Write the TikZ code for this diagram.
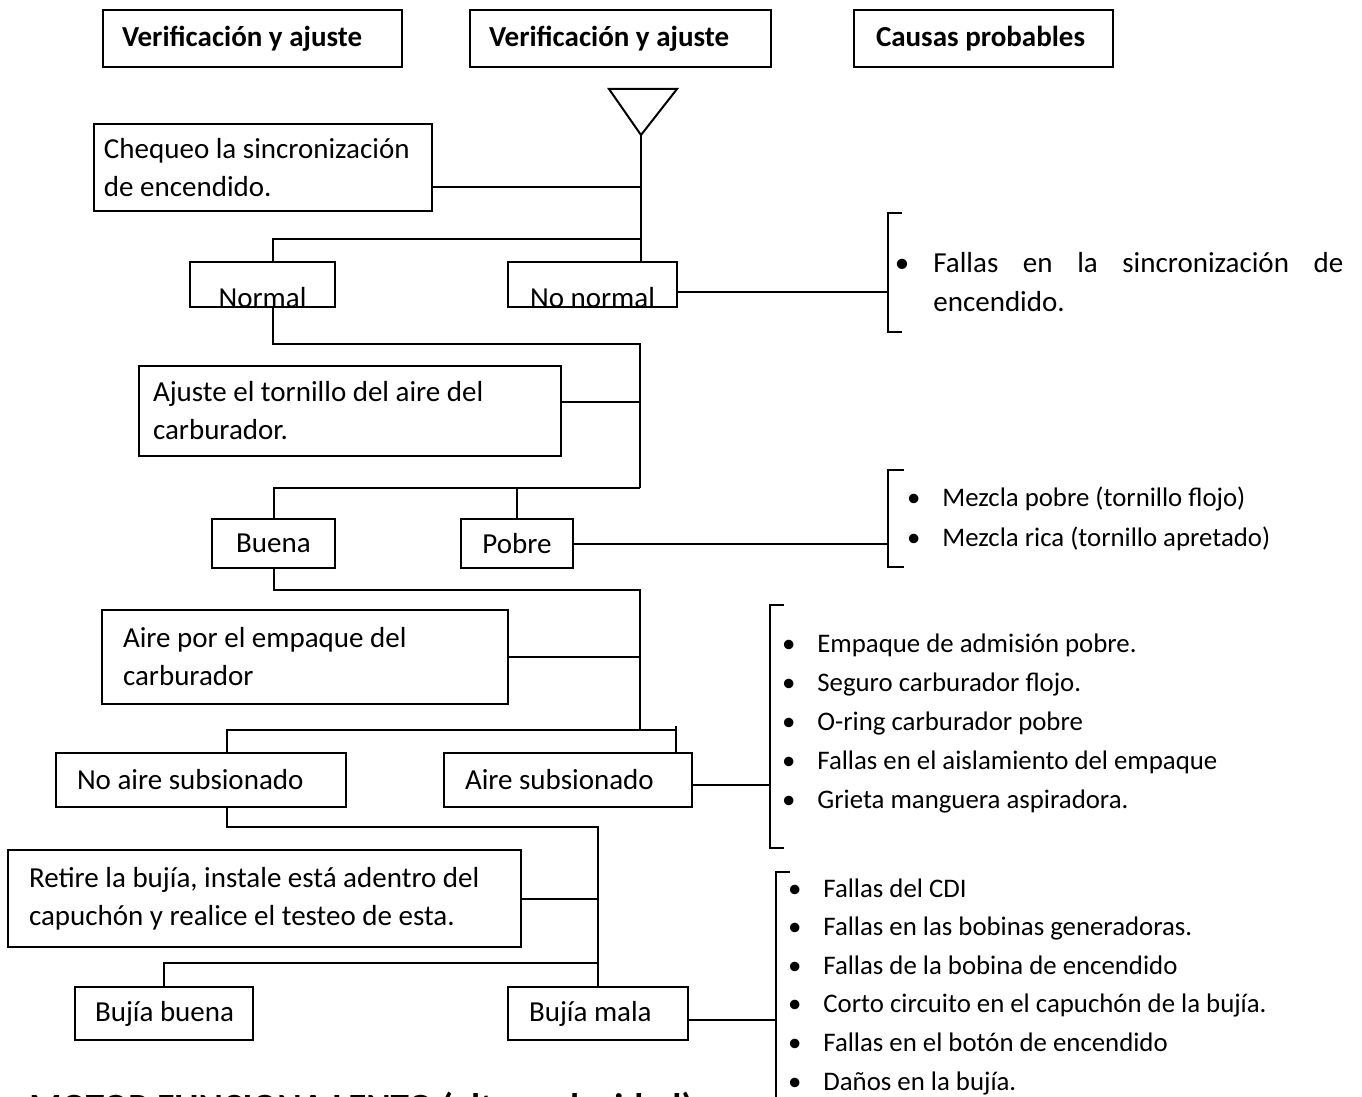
\documentclass[tikz,border=0pt]{standalone}
\usepackage{fontspec}
\setmainfont{Carlito}
\tikzset{
  caja/.style={draw, line width=1pt, inner ysep=0pt, font=\fontsize{14.5}{19}\selectfont},
  titulo/.style={caja, align=flush left, font=\fontsize{14.5}{16}\selectfont\bfseries, inner xsep=9.5pt, minimum height=28.5pt},
  causa/.style={anchor=base west, inner sep=0pt, font=\fontsize{13.4}{15}\selectfont},
  linea/.style={line width=1pt},
}
\newcommand{\vineta}[1]{\llap{\textbullet\hspace{#1}}}
\begin{document}
\begin{tikzpicture}[x=0.5pt,y=-0.5pt]
  \useasboundingbox (0,0) rectangle (1362,1097);
  \clip (0,0) rectangle (1362,1097);
  % encabezados
  \node[titulo, text width=130.5pt] (h1) at (252.5,38.5) {\mbox{Verificación y ajuste}};
  \node[titulo, text width=131.5pt] (h2) at (620.5,38.5) {\mbox{Verificación y ajuste}};
  \node[titulo, text width=107.5pt, inner xsep=11pt] (h3) at (983.5,38.5) {\mbox{Causas probables}};

  % puntos de union del tronco
  \coordinate (apex) at (641,135);
  \coordinate (j1) at (641,239);
  \coordinate (j2) at (640,344);
  \coordinate (j3) at (640,488);
  \coordinate (j4) at (640,590);
  \coordinate (j5) at (640,730);
  \coordinate (j6) at (676,730);
  \coordinate (j7) at (598,827);
  \coordinate (j8) at (598,963);
  \draw[linea] (609,89) -- (677,89) -- (apex) -- cycle;

  % pasos
  \node[caja, align=flush left, text width=159pt, inner xsep=5pt, minimum height=43.5pt] (chequeo) at (263,167.5)
    {Chequeo la sincronización\\de encendido.};
  \node[caja, minimum width=72.5pt, text height=22.5pt, text depth=0pt] (normal) at (262.5,284.5) {Normal};
  \node[caja, minimum width=84.5pt, text height=22.5pt, text depth=0pt] (nonormal) at (592.5,284.5) {No normal};
  \node[caja, align=flush left, text width=197pt, inner xsep=7pt, minimum height=45pt] (ajuste) at (350,411)
    {Ajuste el tornillo del aire del\\carburador.};
  \node[caja, minimum width=61.5pt, minimum height=24.5pt] (buena) at (273.5,543.5) {Buena};
  \node[caja, minimum width=56pt, minimum height=24.5pt] (pobre) at (517,543.5) {Pobre};
  \node[caja, align=flush left, text width=182pt, inner xsep=10.5pt, minimum height=47pt] (aire) at (305,657)
    {Aire por el empaque del\\carburador};
  \node[caja, align=flush left, text width=124pt, inner xsep=10.5pt, minimum height=27pt] (noaire) at (201,780) {\mbox{No aire subsionado}};
  \node[caja, align=flush left, text width=103pt, inner xsep=10.5pt, minimum height=27pt] (airesub) at (568,780) {\mbox{Aire subsionado}};
  \node[caja, align=flush left, text width=235.5pt, inner xsep=10.5pt, minimum height=48.5pt] (retire) at (264.5,898.5)
    {Retire la bujía, instale está adentro del\\capuchón y realice el testeo de esta.};
  \node[caja, align=flush left, text width=69pt, inner xsep=10pt, minimum height=26.5pt] (bbuena) at (164,1013.5) {\mbox{Bujía buena}};
  \node[caja, align=flush left, text width=69pt, inner xsep=10.5pt, minimum height=26.5pt] (bmala) at (598,1013.5) {\mbox{Bujía mala}};

  % conexiones
  \draw[linea] (apex) -- (apex |- nonormal.north);
  \draw[linea] ([yshift=-10pt]chequeo.east) -- ([yshift=-10pt]chequeo.east -| apex);
  \draw[linea] ([xshift=5pt]normal.north) |- (j1);
  \draw[linea] ([xshift=5pt]normal.south) |- (j2) -- (j3);
  \draw[linea] ([yshift=4.5pt]ajuste.east) -- ([yshift=4.5pt]ajuste.east -| j2);
  \draw[linea] (buena.north) |- (j3);
  \draw[linea] (pobre.north) -- (pobre.north |- j3);
  \draw[linea] (buena.south) |- (j4) -- (j5);
  \draw[linea] (aire.east) -- (aire.east -| j4);
  \draw[linea] ([xshift=13pt]noaire.north) |- (j6);
  \draw[linea] (j6 |- 0,726) -- (j6 |- airesub.north);
  \draw[linea] ([xshift=13pt]noaire.south) |- (j7) -- (bmala.north);
  \draw[linea] (retire.east) -- (retire.east -| j7);
  \draw[linea] (bbuena.north) |- (j8);

  % llaves de causas
  \coordinate (b1t) at (888,213); \coordinate (b1b) at (888,332);
  \coordinate (b2t) at (888,470); \coordinate (b2b) at (888,567);
  \coordinate (b3t) at (770,605); \coordinate (b3b) at (770,848);
  \coordinate (b4t) at (776,872); \coordinate (b4b) at (776,1110);
  \draw[linea] ([xshift=7pt]b1t) -- (b1t) -- (b1b) -- ([xshift=7pt]b1b);
  \draw[linea] ([xshift=8pt]b2t) -- (b2t) -- (b2b) -- ([xshift=8pt]b2b);
  \draw[linea] ([xshift=7pt]b3t) -- (b3t) -- (b3b) -- ([xshift=7pt]b3b);
  \draw[linea] ([xshift=7pt]b4t) -- (b4t) -- (b4b);
  \draw[linea] ([yshift=-4pt]nonormal.east) -- ([yshift=-4pt]nonormal.east -| b1t);
  \draw[linea] (pobre.east) -- (pobre.east -| b2t);
  \draw[linea] ([yshift=-2.5pt]airesub.east) -- ([yshift=-2.5pt]airesub.east -| b3t);
  \draw[linea] ([yshift=-3pt]bmala.east) -- ([yshift=-3pt]bmala.east -| b4t);

  % causas probables
  \node[causa, font=\fontsize{14.5}{16}\selectfont] (c1-1) at (933,272)
    {\vineta{12pt}\makebox[205pt][s]{Fallas en la sincronización de}};
  \node[causa, font=\fontsize{14.5}{16}\selectfont] (c1-2) at (933,312) {encendido.};
  \foreach \t [count=\i] in {Mezcla pobre (tornillo flojo), Mezcla rica (tornillo apretado)}
    \node[causa] (c2-\i) at (942,{506+40*(\i-1)}) {\vineta{11pt}\t};
  \foreach \t [count=\i] in {Empaque de admisión pobre., Seguro carburador flojo., O-ring carburador pobre,
      Fallas en el aislamiento del empaque, Grieta manguera aspiradora.}
    \node[causa] (c3-\i) at (817,{652+39*(\i-1)}) {\vineta{11pt}\t};
  \foreach \t [count=\i] in {Fallas del CDI, Fallas en las bobinas generadoras., Fallas de la bobina de encendido,
      Corto circuito en el capuchón de la bujía., Fallas en el botón de encendido, Daños en la bujía.}
    \node[causa] (c4-\i) at (823,{897+38.6*(\i-1)}) {\vineta{11pt}\t};

  % titulo inferior
  \node[anchor=base west, inner sep=0pt, font=\fontsize{18.5}{22}\selectfont\bfseries] (motor) at (29,1119)
    {MOTOR FUNCIONA LENTO (altas velocidad)};
\end{tikzpicture}
\end{document}
